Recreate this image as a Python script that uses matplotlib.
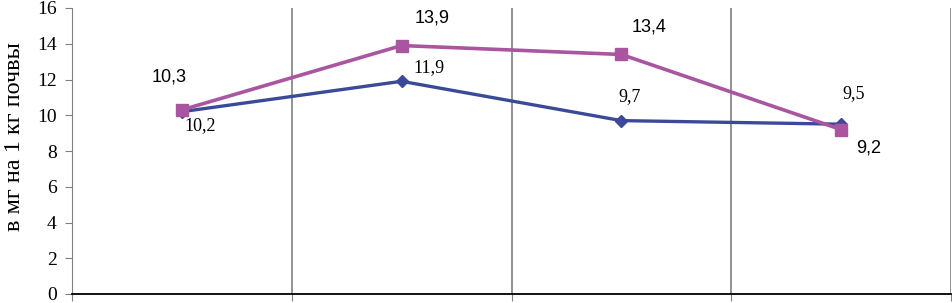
import matplotlib.pyplot as plt

# values (4 unlabeled categories)
positions = [0, 1, 2, 3]
blue_vals = [10.2, 11.9, 9.7, 9.5]
pink_vals = [10.3, 13.9, 13.4, 9.2]
blue_labels = ['10,2', '11,9', '9,7', '9,5']
pink_labels = ['10,3', '13,9', '13,4', '9,2']
y_ticks = [0, 2, 4, 6, 8, 10, 12, 14, 16]

# label offsets in points
blue_off = [(13, -10), (20, 10), (6, 17), (9, 22)]
pink_off = [(-9, 24), (22, 20), (20, 20), (20, -13)]

blue = '#3a4a99'
pink = '#a9559f'

fig = plt.figure(figsize=(9.52, 3.03), dpi=100)
ax = fig.add_axes([72 / 952, 9 / 303, 879 / 952, 286 / 303])

ax.plot(positions, blue_vals, color=blue, lw=2.4, marker='D', ms=6, zorder=3)
ax.plot(positions, pink_vals, color=pink, lw=2.6, marker='s', ms=8.5, zorder=4)

for x, v, t, (dx, dy) in zip(positions, blue_vals, blue_labels, blue_off):
    ax.annotate(t, (x, v), xytext=(dx, dy), textcoords='offset points',
                ha='center', va='center', fontsize=13, family='Liberation Serif')
for x, v, t, (dx, dy) in zip(positions, pink_vals, pink_labels, pink_off):
    ax.annotate(t, (x, v), xytext=(dx, dy), textcoords='offset points',
                ha='center', va='center', fontsize=13, family='Liberation Sans')

ax.set_xlim(-0.5, 3.5)
ax.set_ylim(0, 16)
ax.set_yticks(y_ticks)
ax.set_yticklabels([str(t) for t in y_ticks], family='Liberation Serif', fontsize=14)

# vertical separators between categories
bounds = [0.5, 1.5, 2.5, 3.5]
for b in bounds:
    ax.axvline(b, color='#808080', lw=1.2, zorder=1)
ax.set_xticks([-0.5] + bounds)
ax.set_xticklabels([])
ax.tick_params(axis='x', direction='out', length=5, color='#808080')
ax.tick_params(axis='y', direction='out', length=5, color='#808080', pad=6)

ax.spines['top'].set_visible(False)
ax.spines['right'].set_visible(False)
ax.spines['left'].set_color('#808080')
ax.spines['bottom'].set_color('black')
ax.spines['bottom'].set_linewidth(1.3)
ax.spines['bottom'].set_zorder(5)

ax.set_ylabel('в мг на 1 кг почвы', family='Liberation Serif', fontsize=17.5)
ax.yaxis.set_label_coords(-0.053, 0.55)

fig.savefig('out.png', dpi=100)
